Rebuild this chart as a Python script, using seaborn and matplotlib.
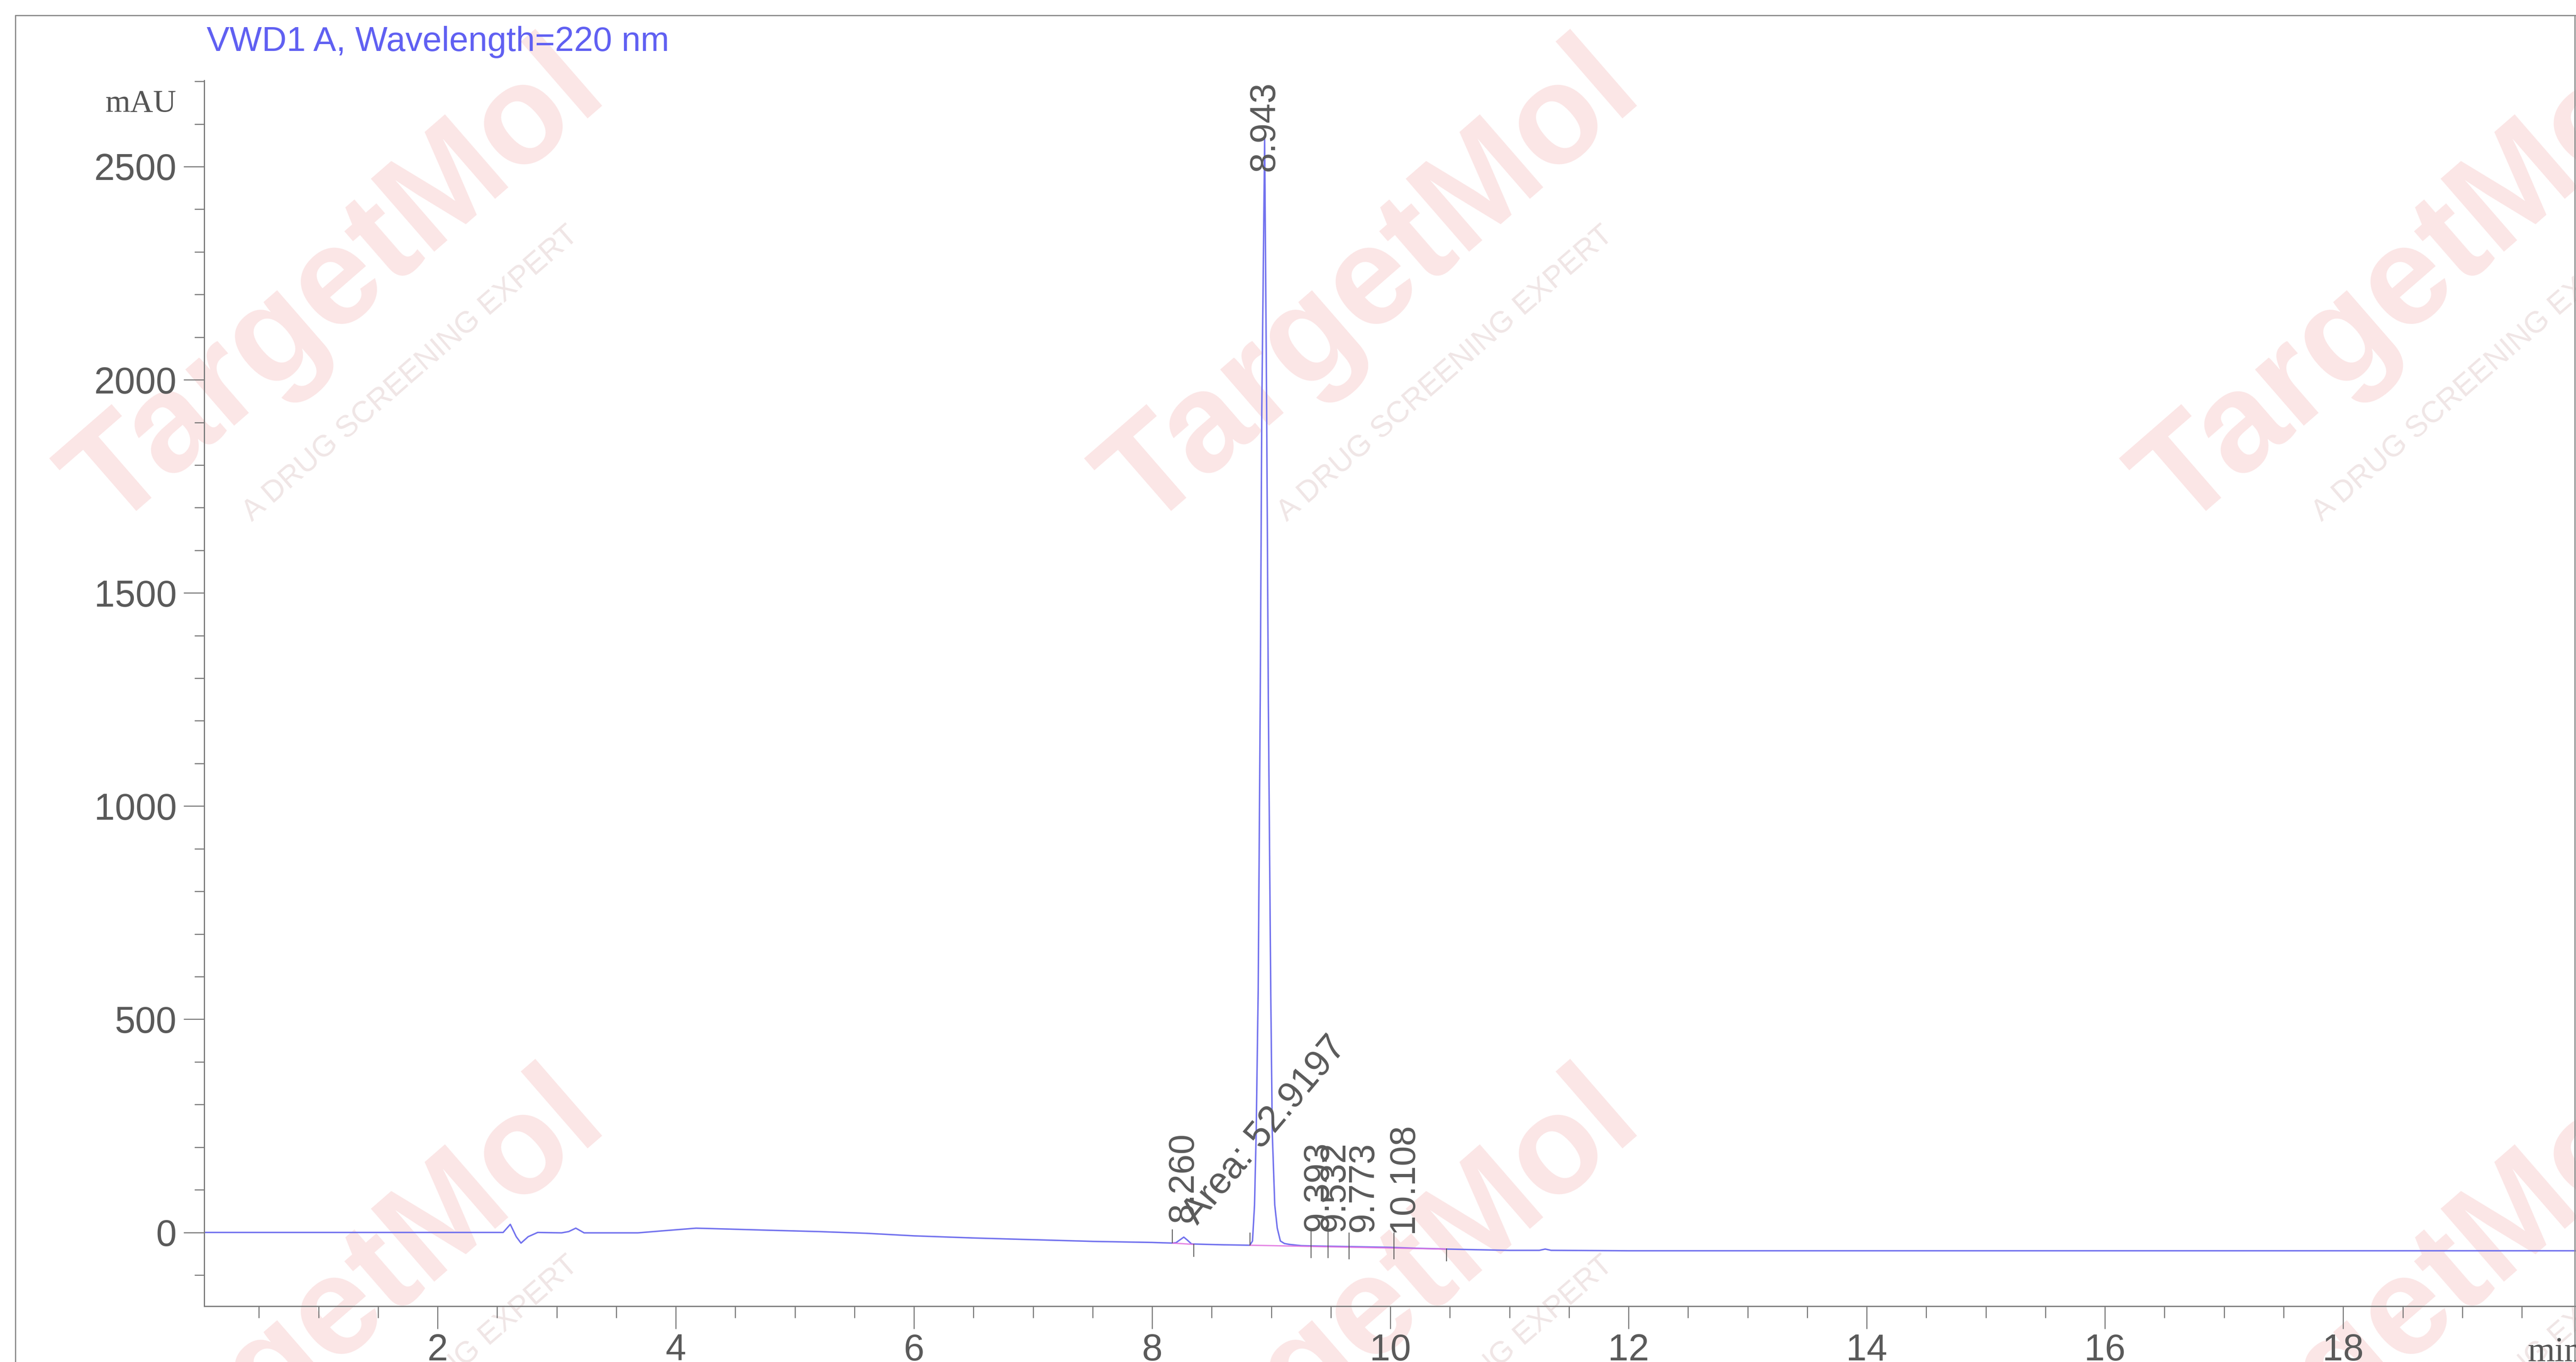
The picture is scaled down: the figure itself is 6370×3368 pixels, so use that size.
import numpy as np
import matplotlib
matplotlib.use('Agg')
import matplotlib.pyplot as plt
from matplotlib.ticker import MultipleLocator
from matplotlib.lines import Line2D
import seaborn as sns

# chromatogram trace (time in min, signal in mAU)
time_min = [0.04, 2.55, 2.61, 2.66, 2.70, 2.76, 2.84, 3.04, 3.10, 3.16, 3.23, 3.40, 3.68,
            3.90, 4.17, 4.43, 4.8, 5.2, 5.6, 6.0, 6.5, 7.0, 7.5, 8.0, 8.17, 8.20, 8.235,
            8.265, 8.295, 8.33, 8.45, 8.6, 8.82, 8.842, 8.859, 8.873, 8.890, 8.907, 8.920,
            8.944, 8.961, 8.975, 8.995, 9.008, 9.029, 9.05, 9.076, 9.11, 9.15, 9.25, 9.4,
            9.6, 9.8, 10.0, 10.2, 10.47, 10.8, 11.0, 11.25, 11.3, 11.35, 12.0, 14.0, 16.0,
            18.0, 19.955]
signal_mau = [0, 0, 19, -10, -25, -10, 0, -1, 2, 10, -1, -1, -1,
              4, 10, 8, 5, 2, -2, -8, -13, -17, -21, -23.5, -25, -24, -17,
              -11, -18, -27, -28, -29, -30, -20, 64, 234, 572, 1249, 1927,
              2565, 1927, 1249, 572, 234, 64, 10, -20, -26, -28, -31, -32,
              -33, -34, -35, -37, -39, -41, -42, -42, -39, -42, -43, -43, -43,
              -43, -43]

# integration baselines (pink)
base1_t = [8.17, 8.35]
base1_v = [-25, -28]
base2_t = [8.82, 10.47]
base2_v = [-30, -39]

# peak start/end event marks
mark_t = [8.17, 8.35, 8.82, 9.335, 9.477, 9.653, 10.03, 10.47]
mark_top = [7, -27, 0, 4, 4, 0, 0, -37]
mark_bot = [-25, -57, -31, -60, -60, -63, -63, -68]

peak_rt = [8.260, 8.943, 9.393, 9.532, 9.773, 10.108]
peak_txt = ['8.260', '8.943', '9.393', '9.532', '9.773', '10.108']
area_txt = 'Area: 52.9197'
area_rt = 8.43

title = 'VWD1 A, Wavelength=220 nm'

sns.set_style('ticks')
plt.rcParams['font.family'] = ['Liberation Sans', 'DejaVu Sans']

W, H = 6370, 3368
fig = plt.figure(figsize=(W / 100, H / 100), dpi=100)
fig.patch.set_facecolor('white')

def fx(px):
    return px / W

def fy(py):
    return 1 - py / H

# watermark tiles
for cx in [833, 3392, 5951]:
    for cy in [711, 3258]:
        fig.text(fx(cx), fy(cy), 'TargetMol', fontsize=250, fontweight='bold', color='#fbe6e6',
                 rotation=41, ha='center', va='center', rotation_mode='anchor', zorder=-5)
        fig.text(fx(cx + 182), fy(cy + 213), 'A DRUG SCREENING EXPERT', fontsize=54,
                 color='#f0e6e6', rotation=41, ha='center', va='center',
                 rotation_mode='anchor', zorder=-5)

# outer frame
frame_c = '#8a8a8a'
fig.add_artist(Line2D([fx(38), fx(38)], [fy(38), 0], color=frame_c, lw=2.2))
fig.add_artist(Line2D([fx(38), 1], [fy(38), fy(38)], color=frame_c, lw=2.2))
fig.add_artist(Line2D([fx(6367), fx(6367)], [fy(38), 0], color=frame_c, lw=2.2))

ax = fig.add_axes([fx(505), fy(3230), 1 - fx(505), fy(199) - fy(3230)])
ax.patch.set_alpha(0)

sns.lineplot(x=time_min, y=signal_mau, ax=ax, color='#7272ee', linewidth=2.6,
             estimator=None, sort=False)
ax.plot(base1_t, base1_v, color='#e070e0', lw=2.4, alpha=0.85)
ax.plot(base2_t, base2_v, color='#e070e0', lw=2.4, alpha=0.85)
ax.vlines(mark_t, mark_bot, mark_top, color='#555555', lw=1.6)

for rt, s in zip(peak_rt, peak_txt):
    y = np.interp(rt, time_min, signal_mau)
    y = y + 35 if y < 1000 else y - 50
    ax.text(rt, y, s, rotation=90, rotation_mode='anchor', ha='left', va='center',
            fontsize=64, color='#5a5a5a')
ya = np.interp(area_rt, time_min, signal_mau) + 32
ax.text(area_rt, ya, area_txt, rotation=50, rotation_mode='anchor', ha='left',
        va='bottom', fontsize=66, color='#5a5a5a')

ax.set_xlim(0.04, 19.955)
ax.set_ylim(-173, 2702)
ax.xaxis.set_major_locator(MultipleLocator(2))
ax.xaxis.set_minor_locator(MultipleLocator(0.5))
ax.yaxis.set_major_locator(MultipleLocator(500))
ax.yaxis.set_minor_locator(MultipleLocator(100))
ax.set_xlabel('')
ax.set_ylabel('')

for side in ['top', 'right']:
    ax.spines[side].set_visible(False)
for side in ['left', 'bottom']:
    ax.spines[side].set_color('#7a7a7a')
    ax.spines[side].set_linewidth(2.2)

ax.tick_params(axis='x', which='major', length=40, width=1.8, color='#707070',
               labelsize=66, labelcolor='#5a5a5a', pad=8)
ax.tick_params(axis='x', which='minor', length=21, width=1.8, color='#707070')
ax.tick_params(axis='y', which='major', length=37, width=1.8, color='#707070',
               labelsize=66, labelcolor='#5a5a5a', pad=12)
ax.tick_params(axis='y', which='minor', length=17, width=1.8, color='#707070')

fig.text(fx(511), fy(126), title, fontsize=61, color='#6060f2', ha='left', va='baseline')
fig.text(fx(436), fy(257), 'mAU', fontsize=57, family='Liberation Serif',
         color='#555555', ha='right', va='center')
fig.text(fx(6250), fy(3366), 'min', fontsize=62, family='Liberation Serif',
         color='#555555', ha='left', va='baseline')

fig.savefig('out.png', dpi=100)
